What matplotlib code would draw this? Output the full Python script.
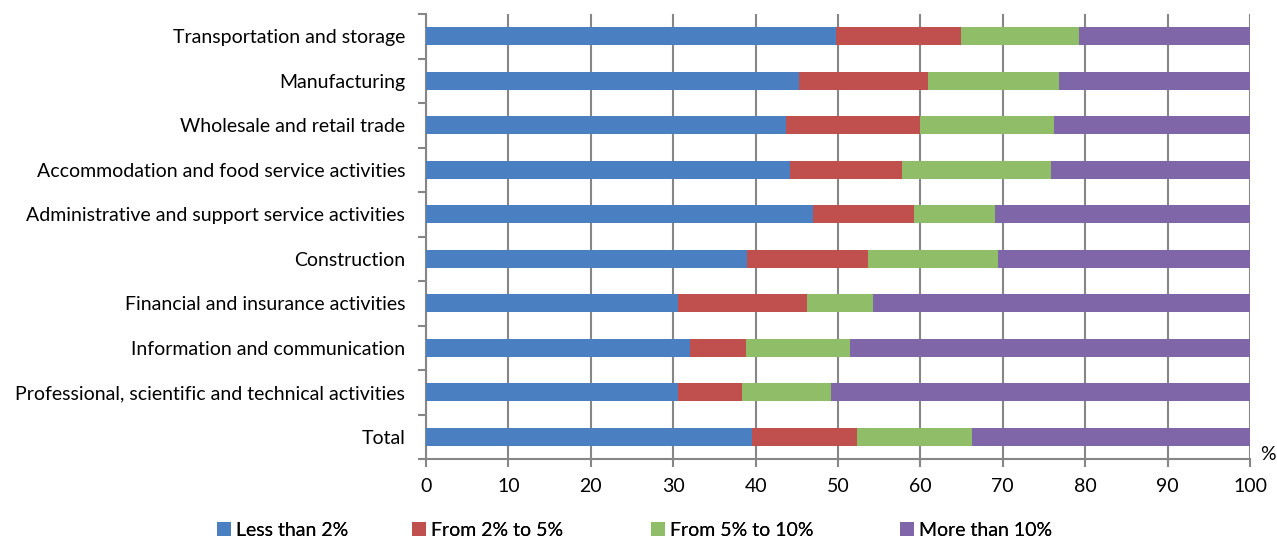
import matplotlib
matplotlib.use("Agg")
import matplotlib.pyplot as plt
import numpy as np

plt.rcParams['font.family'] = ['Lato', 'DejaVu Sans']

categories = [
    "Transportation and storage",
    "Manufacturing",
    "Wholesale and retail trade",
    "Accommodation and food service activities",
    "Administrative and support service activities",
    "Construction",
    "Financial and insurance activities",
    "Information and communication",
    "Professional, scientific and technical activities",
    "Total",
]
series_names = ["Less than 2%", "From 2% to 5%", "From 5% to 10%", "More than 10%"]
less_than_2 = [49.8, 45.3, 43.7, 44.2, 47.0, 39.0, 30.6, 32.0, 30.6, 39.6]
from_2_to_5 = [15.1, 15.6, 16.3, 13.6, 12.2, 14.6, 15.6, 6.8, 7.7, 12.7]
from_5_to_10 = [14.4, 15.9, 16.2, 18.0, 9.8, 15.8, 8.1, 12.6, 10.8, 14.0]
more_than_10 = [20.7, 23.2, 23.8, 24.2, 31.0, 30.6, 45.7, 48.6, 50.9, 33.7]
colors = ["#4A80C2", "#C0504D", "#8FBD68", "#7E66A8"]
xticks = [0, 10, 20, 30, 40, 50, 60, 70, 80, 90, 100]

FS = 14

fig = plt.figure(figsize=(12.77, 5.39), dpi=100)
ax = fig.add_axes([426/1277, 1 - 459/539, (1250-426)/1277, (459-14)/539])

y = np.arange(len(categories))[::-1]
left = np.zeros(len(categories))
for name, vals, c in zip(series_names, [less_than_2, from_2_to_5, from_5_to_10, more_than_10], colors):
    vals = np.array(vals)
    ax.barh(y, vals, left=left, height=0.4, color=c, label=name, zorder=3)
    left += vals

ax.set_xlim(0, 100)
ax.set_ylim(-0.5, len(categories) - 0.5)
ax.set_xticks(xticks)
ax.set_xticklabels([str(t) for t in xticks], fontsize=FS)
ax.set_yticks(y)
ax.set_yticklabels(categories, fontsize=FS)
ax.set_yticks(np.arange(-0.5, len(categories), 1.0), minor=True)
ax.tick_params(axis='y', which='major', length=0, pad=15)
ax.tick_params(axis='y', which='minor', length=6, color='#868686', width=1.5)
ax.tick_params(axis='x', length=6, color='#868686', width=1.5, pad=8)
ax.grid(axis='x', color='#868686', linewidth=1.5, zorder=0)
for s in ['top', 'right']:
    ax.spines[s].set_visible(False)
for s in ['left', 'bottom']:
    ax.spines[s].set_color('#868686')
    ax.spines[s].set_linewidth(1.5)

fig.text(1268/1277, 1 - 455/539, "%", fontsize=FS, ha='center', va='center')

handles, labels = ax.get_legend_handles_labels()
legend_x = [217, 412, 651, 900]
for h, l, lx in zip(handles, labels, legend_x):
    lg = fig.legend([h], [l], loc='center left', bbox_to_anchor=(lx/1277, 1 - 530/539),
                    frameon=False, fontsize=FS, handlelength=0.7, handleheight=0.7,
                    handletextpad=0.3, borderaxespad=0, borderpad=0)
    fig.add_artist(lg)

fig.savefig("out.png", dpi=100)
